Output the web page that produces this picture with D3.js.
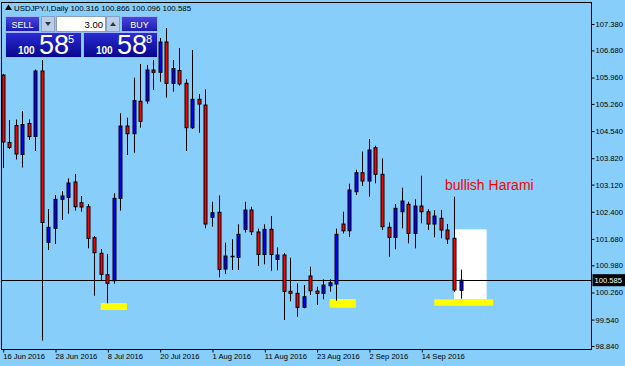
<!DOCTYPE html>
<html><head><meta charset="utf-8">
<script src="https://cdn.jsdelivr.net/npm/d3@7/dist/d3.min.js"></script>
<style>
html,body{margin:0;padding:0;background:#87CEFA;}
svg{display:block;font-family:"Liberation Sans",Arial,sans-serif;}
</style></head><body>
<svg id="c" width="625" height="366"></svg>
<script>
const dates = ["2016-06-16","2016-06-17","2016-06-20","2016-06-21","2016-06-22","2016-06-23","2016-06-24","2016-06-27","2016-06-28","2016-06-29","2016-06-30",
"2016-07-01","2016-07-04","2016-07-05","2016-07-06","2016-07-07","2016-07-08","2016-07-11","2016-07-12","2016-07-13","2016-07-14","2016-07-15","2016-07-18","2016-07-19","2016-07-20","2016-07-21","2016-07-22","2016-07-25","2016-07-26","2016-07-27","2016-07-28","2016-07-29",
"2016-08-01","2016-08-02","2016-08-03","2016-08-04","2016-08-05","2016-08-08","2016-08-09","2016-08-10","2016-08-11","2016-08-12","2016-08-15","2016-08-16","2016-08-17","2016-08-18","2016-08-19","2016-08-22","2016-08-23","2016-08-24","2016-08-25","2016-08-26","2016-08-29","2016-08-30","2016-08-31",
"2016-09-01","2016-09-02","2016-09-05","2016-09-06","2016-09-07","2016-09-08","2016-09-09","2016-09-12","2016-09-13","2016-09-14","2016-09-15","2016-09-16","2016-09-19","2016-09-20","2016-09-21","2016-09-22"];
const opens = [106.027,104.237,104.688,103.919,104.741,104.396,106.133,101.590,101.961,102.730,102.783,
103.189,102.640,102.534,101.712,101.298,100.730,100.571,102.757,104.674,104.470,105.330,105.338,106.160,106.099,106.902,105.807,106.147,105.807,104.629,105.383,105.231,
102.253,102.385,100.881,101.205,101.192,101.934,102.446,101.863,101.266,101.934,101.133,101.253,100.290,100.237,99.866,100.696,100.298,100.237,100.438,100.484,102.075,101.897,102.932,
103.436,103.216,104.099,103.393,101.987,101.722,102.401,102.598,101.828,102.552,102.401,102.075,102.226,101.916,101.696,100.316];
const highs = [106.054,104.834,104.847,105.072,104.847,106.173,106.425,102.473,102.844,102.950,103.287,
103.401,102.818,102.606,101.757,101.412,101.279,102.889,105.011,104.895,105.956,106.319,106.293,106.425,107.009,107.274,106.425,106.743,105.913,106.690,105.523,105.648,
102.666,102.831,101.579,101.672,102.067,102.666,102.534,101.956,102.067,102.287,101.452,101.306,101.181,100.502,100.457,100.942,100.412,100.608,100.608,101.956,102.401,103.144,103.515,
103.998,104.330,104.152,103.818,102.120,102.606,103.038,102.666,102.730,103.356,102.465,102.446,102.446,102.075,102.799,100.866];
const lows = [103.560,104.064,103.786,103.574,104.303,104.011,98.985,101.385,101.545,102.181,102.348,
102.428,102.401,101.430,100.173,100.590,99.972,100.491,102.428,103.905,103.966,104.629,105.266,105.629,105.850,105.425,105.584,105.743,104.011,104.595,104.497,101.961,
102.003,100.661,100.749,100.855,100.855,101.850,101.783,100.961,101.006,100.836,100.847,99.529,100.025,99.616,99.839,100.192,99.927,100.078,100.279,100.041,101.823,101.730,102.844,
103.083,102.799,103.155,101.916,101.208,101.404,101.961,101.563,101.430,102.094,101.916,101.722,101.696,101.545,100.279,100.096];
const closes = [104.250,104.104,103.932,104.714,104.396,106.133,102.115,101.987,102.730,102.818,103.163,
102.534,102.526,101.696,101.314,100.741,100.502,102.757,104.674,104.470,105.346,104.799,106.160,106.099,106.902,105.807,106.200,105.789,104.629,105.383,105.258,102.075,
102.375,100.873,101.226,101.220,101.802,102.446,101.871,101.266,101.934,101.266,101.253,100.290,100.237,99.866,100.147,100.306,100.232,100.457,100.518,101.802,101.895,102.977,103.436,
103.216,104.038,103.393,102.003,101.722,102.491,102.685,101.828,102.552,102.401,102.075,102.287,101.916,101.677,100.324,100.585];

const yTicks = [107.38,106.68,105.96,105.26,104.54,103.82,103.12,102.40,101.68,100.98,100.26,99.54,98.84];
const xTickDates = ["2016-06-16","2016-06-28","2016-07-08","2016-07-20","2016-08-01","2016-08-11","2016-08-23","2016-09-02","2016-09-14"];
const xTickLabels = ["16 Jun 2016","28 Jun 2016","8 Jul 2016","20 Jul 2016","1 Aug 2016","11 Aug 2016","23 Aug 2016","2 Sep 2016","14 Sep 2016"];

const symbolName = "USDJPY.I,Daily";
const lastOHLC = [100.316, 100.866, 100.096, 100.585];
const bidPrice = 100.585;
const lotSize = "3.00";
// yellow marker zones: [start date, bar count, top price, bottom price]
const zoneStarts = ["2016-07-07","2016-08-25","2016-09-16"];
const zoneBars = [4, 4, 9];
const zoneTops = [99.979, 100.086, 100.078];
const zoneBottoms = [99.794, 99.855, 99.908];
const haramiBox = {start:"2016-09-21", bars:5, top:101.934, bottom:100.078};
const haramiLabel = "bullish Harami";

const candles = dates.map((d,i)=>({d, o:opens[i], h:highs[i], l:lows[i], c:closes[i]}));

const svg = d3.select("#c");
const L = 1.5, R = 591.5, T = 2.5, B = 349.5;

const x = d3.scalePoint().domain(dates).range([2.7, 460.5]);
const step = x.step();
const y = d3.scaleLinear().domain([98.84, 107.38]).range([346, 24]);

svg.append("rect").attr("width",625).attr("height",366).attr("fill","#87CEFA");

svg.append("defs").append("clipPath").attr("id","plot")
  .append("rect").attr("x",L).attr("y",T).attr("width",R-L).attr("height",B-T);

const plot = svg.append("g").attr("clip-path","url(#plot)");

// harami white box
plot.append("rect")
  .attr("x", x(haramiBox.start)).attr("y", y(haramiBox.top))
  .attr("width", haramiBox.bars*step).attr("height", y(haramiBox.bottom)-y(haramiBox.top))
  .attr("fill","#ffffff");

// yellow zones
plot.selectAll("rect.zone").data(zoneStarts).join("rect").attr("class","zone")
  .attr("x", d=>x(d)).attr("y",(d,i)=>y(zoneTops[i]))
  .attr("width",(d,i)=>zoneBars[i]*step)
  .attr("height",(d,i)=>y(zoneBottoms[i])-y(zoneTops[i]))
  .attr("fill","#ffff00");

// bid line
plot.append("line").attr("x1",L).attr("x2",R)
  .attr("y1",Math.round(y(bidPrice))+0.5).attr("y2",Math.round(y(bidPrice))+0.5)
  .attr("stroke","#000").attr("stroke-width",1);

// candles
const cg = plot.selectAll("g.candle").data(candles).join("g").attr("class","candle");
cg.append("line")
  .attr("x1",d=>Math.round(x(d.d))+0.5).attr("x2",d=>Math.round(x(d.d))+0.5)
  .attr("y1",d=>y(d.h)).attr("y2",d=>y(d.l))
  .attr("stroke","#000").attr("stroke-width",1);
cg.append("rect")
  .attr("x",d=>Math.round(x(d.d))-1)
  .attr("y",d=>y(Math.max(d.o,d.c)))
  .attr("width",3)
  .attr("height",d=>Math.max(0.5, Math.abs(y(d.o)-y(d.c))))
  .attr("fill",d=>d.c>=d.o?"#0000ff":"#ff0000")
  .attr("stroke","#000").attr("stroke-width",1);

// label
svg.append("text").attr("x", x(haramiBox.start)-9).attr("y", y(102.99))
  .attr("fill","#ff0000").attr("font-size",14).text(haramiLabel);

// frame
svg.append("rect").attr("x",L).attr("y",T).attr("width",R-L).attr("height",B-T)
  .attr("fill","none").attr("stroke","#000").attr("stroke-width",1);

// right axis
const ya = svg.append("g").attr("transform",`translate(${R},0)`)
  .call(d3.axisRight(y).tickValues(yTicks).tickSize(3).tickPadding(1).tickFormat(d3.format(".3f")));
ya.select(".domain").remove();
ya.selectAll("line").attr("stroke","#000");
ya.selectAll("text").attr("font-size",7.6).attr("fill","#000").attr("font-family","Liberation Sans, Arial, sans-serif");

// bid label
const by = y(bidPrice);
svg.append("rect").attr("x",R+1).attr("y",by-6).attr("width",33).attr("height",12).attr("fill","#000");
svg.append("text").attr("x",R+3).attr("y",by+3).attr("fill","#fff").attr("font-size",7.6).text(d3.format(".3f")(bidPrice));

// bottom axis
const xa = svg.append("g").attr("transform",`translate(0,${B})`)
  .call(d3.axisBottom(x).tickValues(xTickDates).tickSize(3).tickFormat((d,i)=>xTickLabels[i]));
xa.select(".domain").remove();
xa.selectAll("line").attr("stroke","#000").attr("transform","translate(0.5,0)");
xa.selectAll("text").attr("text-anchor","start").attr("y",9.5).attr("dy",0).attr("x",0)
  .attr("font-size",7.6).attr("fill","#000").attr("font-family","Liberation Sans, Arial, sans-serif");

// header text
const hdr = svg.append("g");
hdr.append("path").attr("d","M5,10 L8.5,4.5 L12,10 Z").attr("fill","#000");
hdr.append("text").attr("x",14).attr("y",11).attr("font-size",7.9).attr("fill","#000")
  .text(symbolName + "  " + lastOHLC.map(d3.format(".3f")).join(" "));

// trading panel
const defs = svg.select("defs");
const g1 = defs.append("linearGradient").attr("id","btn").attr("x1",0).attr("y1",0).attr("x2",0).attr("y2",1);
g1.append("stop").attr("offset","0%").attr("stop-color","#4848e0");
g1.append("stop").attr("offset","100%").attr("stop-color","#1a1ab0");
const g2 = defs.append("linearGradient").attr("id","box").attr("x1",0).attr("y1",0).attr("x2",0).attr("y2",1);
g2.append("stop").attr("offset","0%").attr("stop-color","#2c2cd4");
g2.append("stop").attr("offset","100%").attr("stop-color","#06068c");

const p = svg.append("g");
function btn(x0,w,label){
  p.append("rect").attr("x",x0+0.5).attr("y",16.5).attr("width",w).attr("height",15)
    .attr("fill","url(#btn)").attr("stroke","#9fb6ff");
  p.append("text").attr("x",x0+w/2+0.5).attr("y",27.5).attr("text-anchor","middle")
    .attr("fill","#fff").attr("font-size",9).text(label);
}
btn(5,34,"SELL");
btn(121,36,"BUY");
// arrows
p.append("rect").attr("x",41.5).attr("y",16.5).attr("width",13).attr("height",15).attr("fill","#b9cfe8").attr("stroke","#8aa0c0");
p.append("path").attr("d","M45,22 L51,22 L48,26 Z").attr("fill","#334");
p.append("rect").attr("x",106.5).attr("y",16.5).attr("width",13).attr("height",15).attr("fill","#b9cfe8").attr("stroke","#8aa0c0");
p.append("path").attr("d","M110,26 L116,26 L113,22 Z").attr("fill","#334");
p.append("rect").attr("x",56.5).attr("y",16.5).attr("width",49).attr("height",15).attr("fill","#fff").attr("stroke","#8aa0c0");
p.append("text").attr("x",103).attr("y",27.5).attr("text-anchor","end").attr("font-size",9.5).attr("fill","#000").text(lotSize);

function priceBox(x0,w,big,sup,bigX){
  p.append("rect").attr("x",x0+0.5).attr("y",32.5).attr("width",w).attr("height",25)
    .attr("fill","url(#box)").attr("stroke","#9fb6ff");
  p.append("text").attr("x",bigX-21).attr("y",53.5).attr("fill","#fff").attr("font-size",10).attr("font-weight","bold").text("100");
  p.append("text").attr("x",bigX).attr("y",53.5).attr("fill","#fff").attr("font-size",27).text(big);
  p.append("text").attr("x",bigX+29).attr("y",43).attr("fill","#fff").attr("font-size",11).text(sup);
}
priceBox(5,76,"58","5",39);
priceBox(83,74,"58","8",117);
</script>
</body></html>
